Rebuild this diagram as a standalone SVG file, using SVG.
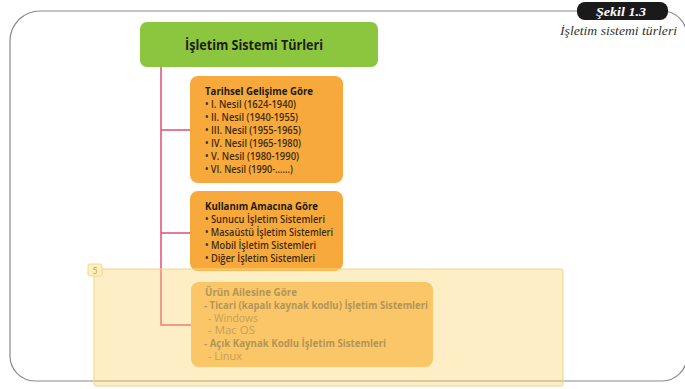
<svg xmlns="http://www.w3.org/2000/svg" width="685" height="389" viewBox="0 0 685 389">
<style>
.frame{fill:none;stroke:#8a8a8a;stroke-width:1.2}
.conn{fill:none;stroke:#e34d78;stroke-width:1.5}
.box{fill:#f7a93c}
.t{font-family:"Open Sans",Lato,"Liberation Sans",sans-serif;font-size:10.5px}
.s{font-size:10px}
.h{font-weight:bold;fill:#1e1a14}
.i{fill:#3f2c12;font-weight:600}
.fh{font-weight:bold;fill:#857050}
.fi{fill:#a88048}
</style>
<rect width="685" height="389" fill="#ffffff"/>
<path class="frame" d="M40 11 H662 A25 25 0 0 1 687 36 V356 A25 25 0 0 1 662 381 H35 A25 25 0 0 1 10 356 V41 A30 30 0 0 1 40 11 Z"/>
<g id="sekil">
<rect x="577" y="2" width="91" height="18" rx="8" fill="#1a1a1a"/>
<text x="621" y="15.5" text-anchor="middle" font-family="'Liberation Serif',serif" font-weight="bold" font-style="italic" font-size="13" fill="#ffffff" textLength="50" lengthAdjust="spacingAndGlyphs">Şekil 1.3</text>
<text x="677" y="35" text-anchor="end" font-family="'Liberation Serif',serif" font-style="italic" font-size="13" fill="#333333" textLength="117" lengthAdjust="spacingAndGlyphs">İşletim sistemi türleri</text>
</g>
<g id="connectors">
<path class="conn" d="M161 67 V325 H191 M161 130 H191 M161 233 H191"/>
</g>
<g id="root">
<rect x="140" y="22" width="238" height="45" rx="7" fill="#8cc63f"/>
<text x="185" y="50" font-family="'Open Sans',Lato,'Liberation Sans',sans-serif" font-weight="bold" font-size="14" fill="#1e1e14" textLength="138" lengthAdjust="spacingAndGlyphs">İşletim Sistemi Türleri</text>
</g>
<g id="tarihsel">
<rect class="box" x="190" y="76" width="153" height="107" rx="8"/>
<text class="t h" x="205" y="95" textLength="108" lengthAdjust="spacingAndGlyphs">Tarihsel Gelişime Göre</text>
<text class="t i" x="205" y="108" textLength="91" lengthAdjust="spacingAndGlyphs">• I. Nesil (1624-1940)</text>
<text class="t i" x="205" y="121" textLength="93" lengthAdjust="spacingAndGlyphs">• II. Nesil (1940-1955)</text>
<text class="t i" x="205" y="134" textLength="96" lengthAdjust="spacingAndGlyphs">• III. Nesil (1955-1965)</text>
<text class="t i" x="205" y="147" textLength="96" lengthAdjust="spacingAndGlyphs">• IV. Nesil (1965-1980)</text>
<text class="t i" x="205" y="160" textLength="94" lengthAdjust="spacingAndGlyphs">• V. Nesil (1980-1990)</text>
<text class="t i" x="205" y="173" textLength="88" lengthAdjust="spacingAndGlyphs">• VI. Nesil (1990-......)</text>
</g>
<g id="kullanim">
<rect class="box" x="190" y="191" width="153" height="80" rx="8"/>
<text class="t h" x="205" y="210" textLength="113" lengthAdjust="spacingAndGlyphs">Kullanım Amacına Göre</text>
<text class="t i" x="205" y="223" textLength="120" lengthAdjust="spacingAndGlyphs">• Sunucu İşletim Sistemleri</text>
<text class="t i" x="205" y="236" textLength="128" lengthAdjust="spacingAndGlyphs">• Masaüstü İşletim Sistemleri</text>
<text class="t i" x="205" y="249" textLength="111" lengthAdjust="spacingAndGlyphs">• Mobil İşletim Sistemleri</text>
<text class="t i" x="205" y="262" textLength="110" lengthAdjust="spacingAndGlyphs">• Diğer İşletim Sistemleri</text>
</g>
<g id="urun">
<rect x="191" y="282" width="242" height="85" rx="8" fill="#fbbf66"/>
<text class="t s fh" x="205" y="296" textLength="92" lengthAdjust="spacingAndGlyphs">Ürün Ailesine Göre</text>
<text class="t s fh" x="204" y="308.5" textLength="224" lengthAdjust="spacingAndGlyphs">- Ticari (kapalı kaynak kodlu) İşletim Sistemleri</text>
<text class="t s fi" x="208" y="321.5" textLength="50" lengthAdjust="spacingAndGlyphs">- Windows</text>
<text class="t s fi" x="208" y="334" textLength="47" lengthAdjust="spacingAndGlyphs">- Mac OS</text>
<text class="t s fh" x="204" y="346.5" textLength="182" lengthAdjust="spacingAndGlyphs">- Açık Kaynak Kodlu İşletim Sistemleri</text>
<text class="t s fi" x="208" y="360" textLength="34" lengthAdjust="spacingAndGlyphs">- Linux</text>
</g>
<g id="overlay">
<rect x="94" y="269" width="469" height="117" rx="2" fill="#fbd36a" fill-opacity="0.38" stroke="#f0d488" stroke-width="1"/>
<rect x="88" y="264" width="14" height="12" rx="1.5" fill="#fdf0c0" stroke="#f0d070" stroke-width="0.8"/>
<text x="95" y="273.5" text-anchor="middle" font-family="Lato,'Liberation Sans',sans-serif" font-size="9" fill="#c9a04a">5</text>
</g>
</svg>
